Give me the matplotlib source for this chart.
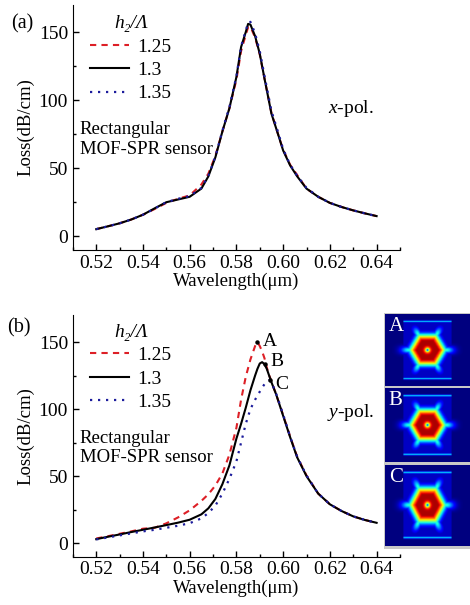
import numpy as np
import matplotlib
matplotlib.use("Agg")
import matplotlib.pyplot as plt
from matplotlib.ticker import MultipleLocator

plt.rcParams['font.family'] = ['Liberation Serif', 'DejaVu Serif']
plt.rcParams['mathtext.fontset'] = 'custom'
plt.rcParams['mathtext.rm'] = 'Liberation Serif'
plt.rcParams['mathtext.it'] = 'Liberation Serif:italic'
plt.rcParams['font.size'] = 14

# ---- datos (a): polarizacion x ----
wl_a = [0.52, 0.525, 0.53, 0.535, 0.54, 0.545, 0.55, 0.555, 0.56, 0.565, 0.568,
        0.571, 0.574, 0.577, 0.58, 0.582, 0.584, 0.585, 0.586, 0.588, 0.59, 0.592,
        0.595, 0.598, 0.60, 0.603, 0.606, 0.61, 0.615, 0.62, 0.625, 0.63, 0.635, 0.64]
loss_a_125 = [5.2, 7.3, 9.5, 12.3, 15.8, 20.0, 24.5, 27.5, 30.0, 38.0, 46.0,
              59.0, 77.0, 94.0, 115.0, 136.0, 148.0, 153.5, 154.0, 146.0, 133.5, 116.0,
              90.5, 74.0, 63.5, 52.5, 45.0, 35.0, 29.0, 24.5, 21.5, 19.0, 16.8, 14.8]
loss_a_13 = [5.2, 7.3, 9.5, 12.3, 15.8, 20.5, 25.0, 27.0, 29.0, 35.0, 44.0,
             58.0, 77.0, 94.0, 117.0, 139.0, 150.0, 156.0, 155.5, 147.0, 134.0, 116.0,
             90.0, 74.0, 63.0, 52.0, 44.0, 35.0, 29.0, 24.5, 21.5, 19.0, 16.8, 14.8]
loss_a_135 = [5.2, 7.3, 9.5, 12.3, 15.8, 20.3, 25.0, 27.5, 29.5, 35.5, 44.5,
              58.5, 77.5, 95.0, 117.5, 139.5, 151.0, 157.0, 157.5, 149.0, 136.0, 118.0,
              92.0, 75.5, 64.0, 52.5, 44.5, 35.5, 29.0, 24.5, 21.5, 19.0, 16.8, 14.8]

# ---- datos (b): polarizacion y ----
wl_b = [0.52, 0.525, 0.53, 0.535, 0.54, 0.545, 0.55, 0.555, 0.56, 0.565, 0.568,
        0.571, 0.574, 0.577, 0.58, 0.582, 0.584, 0.586, 0.588, 0.589, 0.59, 0.591,
        0.592, 0.593, 0.594, 0.595, 0.597, 0.60, 0.603, 0.606, 0.61, 0.615, 0.62,
        0.625, 0.63, 0.635, 0.64]
loss_b_125 = [3.5, 5.2, 7.0, 8.8, 10.8, 11.5, 14.8, 19.2, 24.5, 31.5, 36.5,
              43.0, 52.0, 66.0, 86.0, 107.0, 124.0, 137.0, 147.0, 150.0, 147.0, 143.0,
              138.0, 131.0, 125.5, 120.5, 111.0, 95.5, 79.5, 64.5, 50.5, 37.0, 29.0,
              24.0, 20.0, 17.3, 15.2]
loss_b_13 = [3.0, 4.8, 6.5, 8.3, 10.0, 11.7, 13.5, 15.3, 17.5, 21.5, 26.0,
             33.0, 44.0, 58.0, 78.0, 89.0, 101.0, 114.0, 125.0, 130.0, 134.0, 135.0,
             133.5, 130.0, 125.0, 120.0, 111.0, 95.0, 79.0, 64.0, 50.0, 37.0, 29.0,
             24.0, 20.0, 17.3, 15.2]
loss_b_135 = [2.8, 4.3, 5.8, 7.3, 8.8, 10.0, 11.5, 13.0, 14.9, 18.5, 22.5,
              28.0, 37.0, 48.0, 61.0, 75.0, 89.0, 100.0, 107.0, 110.0, 113.0, 116.0,
              118.5, 120.5, 121.5, 120.0, 111.5, 96.0, 79.5, 64.5, 50.5, 37.0, 29.0,
              24.0, 20.0, 17.3, 15.2]

# puntos marcados A, B, C
mark_wl = [0.5888, 0.5922, 0.5945]
mark_loss = [150.0, 133.5, 121.5]
mark_names = ['A', 'B', 'C']
label_wl = [0.5944, 0.5973, 0.5992]
label_loss = [150.6, 135.6, 118.5]

leyenda = ['1.25', '1.3', '1.35']
xticks = [0.52, 0.54, 0.56, 0.58, 0.60, 0.62, 0.64]

rojo = '#dd1f26'
azul = '#1c1c9c'
estilos = [dict(color=rojo, ls=(0, (3, 2.5)), lw=1.5),
           dict(color='black', ls='-', lw=1.5),
           dict(color=azul, ls=(0, (1, 2.6)), lw=1.6)]

fig = plt.figure(figsize=(4.7, 6.05), dpi=100)
ax_a = fig.add_axes([0.155, 0.587, 0.696, 0.405])
ax_b = fig.add_axes([0.155, 0.080, 0.696, 0.399])


def formato(ax, ytop):
    ax.set_xlim(0.51, 0.65)
    ax.set_ylim(-10, 170)
    ax.spines['top'].set_visible(False)
    ax.spines['right'].set_visible(False)
    ax.set_xticks(xticks)
    ax.set_xticklabels(['%.2f' % v for v in xticks])
    ax.xaxis.set_minor_locator(MultipleLocator(0.01))
    ax.set_yticks([0, 50, 100, 150])
    ax.yaxis.set_minor_locator(MultipleLocator(25))
    ax.tick_params(which='major', direction='in', length=4.5, width=1, labelsize=14)
    ax.tick_params(which='minor', direction='in', length=2.5, width=1)
    ax.set_xlabel('Wavelength(μm)', labelpad=1, fontsize=13.5)
    ax.set_ylabel('Loss(dB/cm)', labelpad=3, fontsize=13.5)
    ax.legend(loc='upper left', bbox_to_anchor=(0.052, ytop), frameon=False,
              borderpad=0, borderaxespad=0, handlelength=2.0,
              handletextpad=0.45, labelspacing=0.3, fontsize=14,
              title='h\u2082/\u039b',
              title_fontproperties={'style': 'italic', 'size': 14})
    ax.text(0.021, 0.45, 'Rectangular\nMOF-SPR sensor', transform=ax.transAxes,
            ha='left', va='center', linespacing=1.2, fontsize=13.5)


for serie, est, lab in zip([loss_a_125, loss_a_13, loss_a_135], estilos, leyenda):
    ax_a.plot(wl_a, serie, label=lab, **est)
formato(ax_a, 0.958)
ax_a.text(0.85, 0.575, r'$x$-pol.', transform=ax_a.transAxes, ha='center', va='center')

for serie, est, lab in zip([loss_b_125, loss_b_13, loss_b_135], estilos, leyenda):
    ax_b.plot(wl_b, serie, label=lab, **est)
formato(ax_b, 0.965)
ax_b.text(0.85, 0.595, r'$y$-pol.', transform=ax_b.transAxes, ha='center', va='center')
ax_b.plot(mark_wl, mark_loss, 'o', color='black', ms=2.2)
for x, y, t in zip(label_wl, label_loss, mark_names):
    ax_b.text(x, y, t, ha='center', va='center')

fig.text(0.047, 0.960, '(a)', ha='center', va='center', fontsize=14.5)
fig.text(0.041, 0.458, '(b)', ha='center', va='center', fontsize=14.5)


# perfiles de modo (ilustracion)
def perfil(n=120):
    y, x = np.mgrid[-1:1:n * 1j, -1.15:1.15:n * 1j]
    r = np.hypot(x, y)
    th = np.arctan2(y, x)
    d = r * np.cos(np.mod(th, np.pi / 3) - np.pi / 6)
    campo = np.where(d < 0.24, 0.96, 0.96 * np.exp(-((d - 0.24) / 0.2) ** 2))
    campo = campo - 0.5 * np.exp(-(r / 0.075) ** 2) - 0.3 * np.exp(-(r / 0.03) ** 2)
    brazos = 0.4 * np.exp(-((r - 0.5) / 0.22) ** 2) * ((np.cos(6 * th) + 1) / 2) ** 4
    campo = np.maximum(campo, brazos)
    caja = 0.06 * ((np.abs(y) < 0.78) & (np.abs(x) < 0.65))
    campo = np.maximum(campo, caja)
    barras = 0.35 * np.exp(-((np.abs(y) - 0.8) / 0.025) ** 2) * (np.abs(x) < 0.65)
    campo = np.maximum(campo, barras)
    return campo


fondo = fig.add_axes([0.818, 0.093, 0.182, 0.390])
fondo.set_facecolor('#c8c8c8')
fondo.set_xticks([])
fondo.set_yticks([])
for s in fondo.spines.values():
    s.set_visible(False)

cajas = [[0.820, 0.362, 0.180, 0.119], [0.820, 0.236, 0.180, 0.122],
         [0.820, 0.097, 0.180, 0.134]]
for caja, t in zip(cajas, mark_names):
    axi = fig.add_axes(caja)
    axi.imshow(perfil(), cmap='jet', vmin=0, vmax=1, aspect='auto',
               extent=(-1.15, 1.15, -1, 1), interpolation='bilinear')
    axi.set_xticks([])
    axi.set_yticks([])
    for s in axi.spines.values():
        s.set_visible(False)
    axi.text(0.04, 0.96, t, transform=axi.transAxes, color='white', ha='left',
             va='top', fontsize=15)

fig.savefig('out.png', dpi=100)
